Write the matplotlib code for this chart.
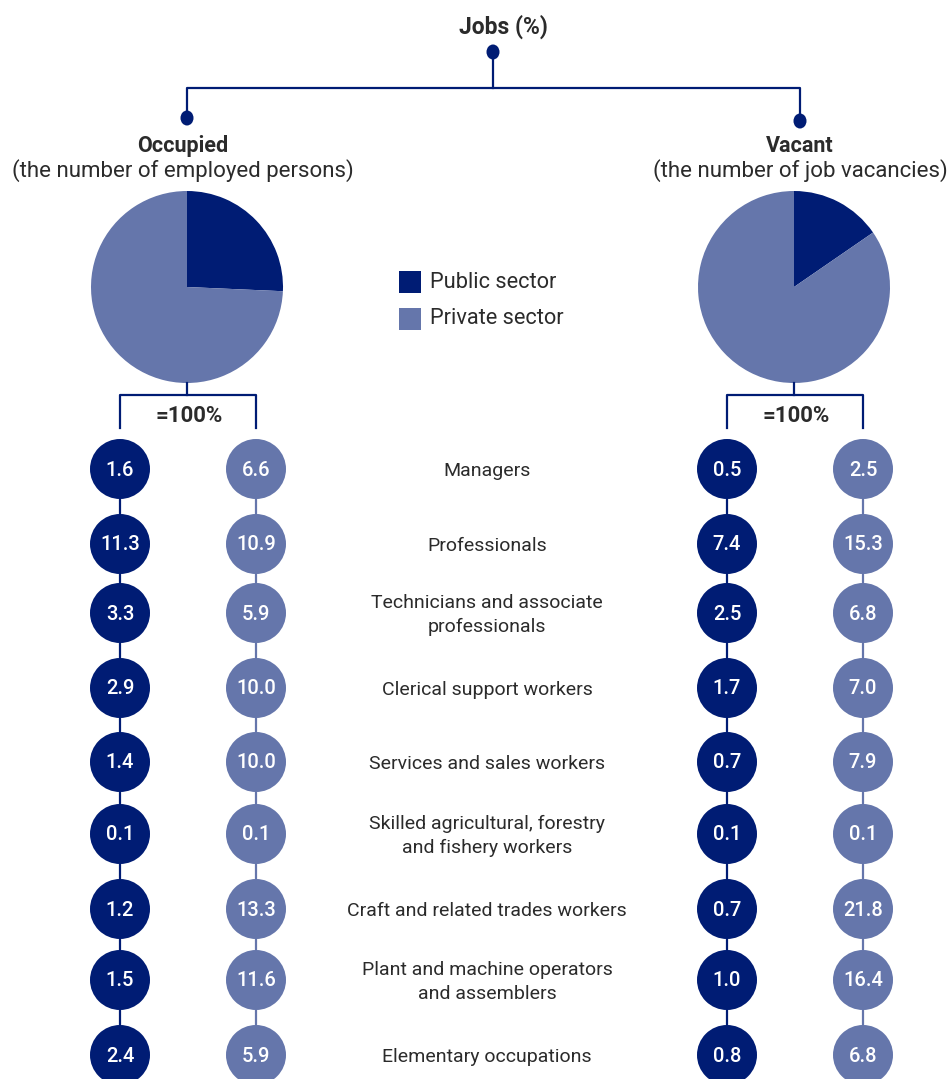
import matplotlib.pyplot as plt
from matplotlib.patches import Circle, Ellipse, Rectangle

plt.rcParams['font.family'] = ['Roboto', 'DejaVu Sans']

# share of jobs by occupation (%), public vs private sector
occupations = [
    'Managers',
    'Professionals',
    'Technicians and associate\nprofessionals',
    'Clerical support workers',
    'Services and sales workers',
    'Skilled agricultural, forestry\nand fishery workers',
    'Craft and related trades workers',
    'Plant and machine operators\nand assemblers',
    'Elementary occupations',
]
occupied_public = [1.6, 11.3, 3.3, 2.9, 1.4, 0.1, 1.2, 1.5, 2.4]
occupied_private = [6.6, 10.9, 5.9, 10.0, 10.0, 0.1, 13.3, 11.6, 5.9]
vacant_public = [0.5, 7.4, 2.5, 1.7, 0.7, 0.1, 0.7, 1.0, 0.8]
vacant_private = [2.5, 15.3, 6.8, 7.0, 7.9, 0.1, 21.8, 16.4, 6.8]
sector_labels = ['Public sector', 'Private sector']

DARK = '#001c74'
LIGHT = '#6576ab'
TEXT = '#2b2b2b'

W, H = 950, 1079
fig = plt.figure(figsize=(W / 100, H / 100), dpi=100)
ax = fig.add_axes([0, 0, 1, 1])

row_y = [469, 544, 613, 688, 762, 834, 909, 980, 1055]
circle_r = 30


def column(x, values, color):
    # connector line behind the bubbles
    ax.plot([x, x], [row_y[0], row_y[-1]], color=color, lw=1.6, zorder=1)
    for y, v in zip(row_y, values):
        ax.add_patch(Circle((x, y), circle_r, color=color, lw=0, zorder=2))
        ax.text(x, y + 1, f'{v:.1f}', color='white', fontsize=14.5, weight='medium',
                ha='center', va='center', zorder=3)


def block(tx, px, title, subtitle, public, private, x_pub, x_priv):
    ax.text(tx, 146, title, fontsize=15.5, weight='bold', color=TEXT,
            ha='center', va='center')
    ax.text(tx, 171, subtitle, fontsize=16, color=TEXT, ha='center', va='center')
    ax.pie([sum(public), sum(private)], colors=[DARK, LIGHT], center=(px, 287),
           radius=96, startangle=270, counterclock=True,
           wedgeprops=dict(linewidth=0))
    # bracket under the pie
    ax.plot([px, px], [383, 395], color=DARK, lw=1.6)
    ax.plot([x_pub, x_pub, x_priv, x_priv], [428, 395, 395, 428], color=DARK, lw=1.6)
    ax.text((x_pub + x_priv) / 2 + 1, 416, '=100%', fontsize=16, weight='bold',
            color=TEXT, ha='center', va='center')
    column(x_pub, public, DARK)
    column(x_priv, private, LIGHT)


# tree on top
ax.text(503, 27, 'Jobs (%)', fontsize=16.5, weight='bold', color=TEXT,
        ha='center', va='center')
ax.plot([493, 493], [52, 88], color=DARK, lw=1.6)
ax.plot([187, 187, 800, 800], [118, 88, 88, 121], color=DARK, lw=1.6)
for x, y in [(493, 52), (187, 118), (800, 121)]:
    ax.add_patch(Ellipse((x, y), 13, 15, color=DARK, lw=0))

block(183, 187, 'Occupied', '(the number of employed persons)',
      occupied_public, occupied_private, 120, 256)
block(800, 794, 'Vacant', '(the number of job vacancies)',
      vacant_public, vacant_private, 727, 863)

# legend
for i, (lab, col) in enumerate(zip(sector_labels, [DARK, LIGHT])):
    y = 282 + 37 * i
    ax.add_patch(Rectangle((399, y - 11), 22, 22, color=col, lw=0))
    ax.text(430, y, lab, fontsize=15.7, color=TEXT, ha='left', va='center')

# occupation names in the middle
for y, name in zip(row_y, occupations):
    ax.text(487, y + 2, name, fontsize=14, color=TEXT, ha='center', va='center',
            linespacing=1.4)

ax.set_xlim(0, W)
ax.set_ylim(H, 0)
ax.set_aspect('equal')
ax.axis('off')

fig.savefig('out.png', dpi=100, facecolor='white')
